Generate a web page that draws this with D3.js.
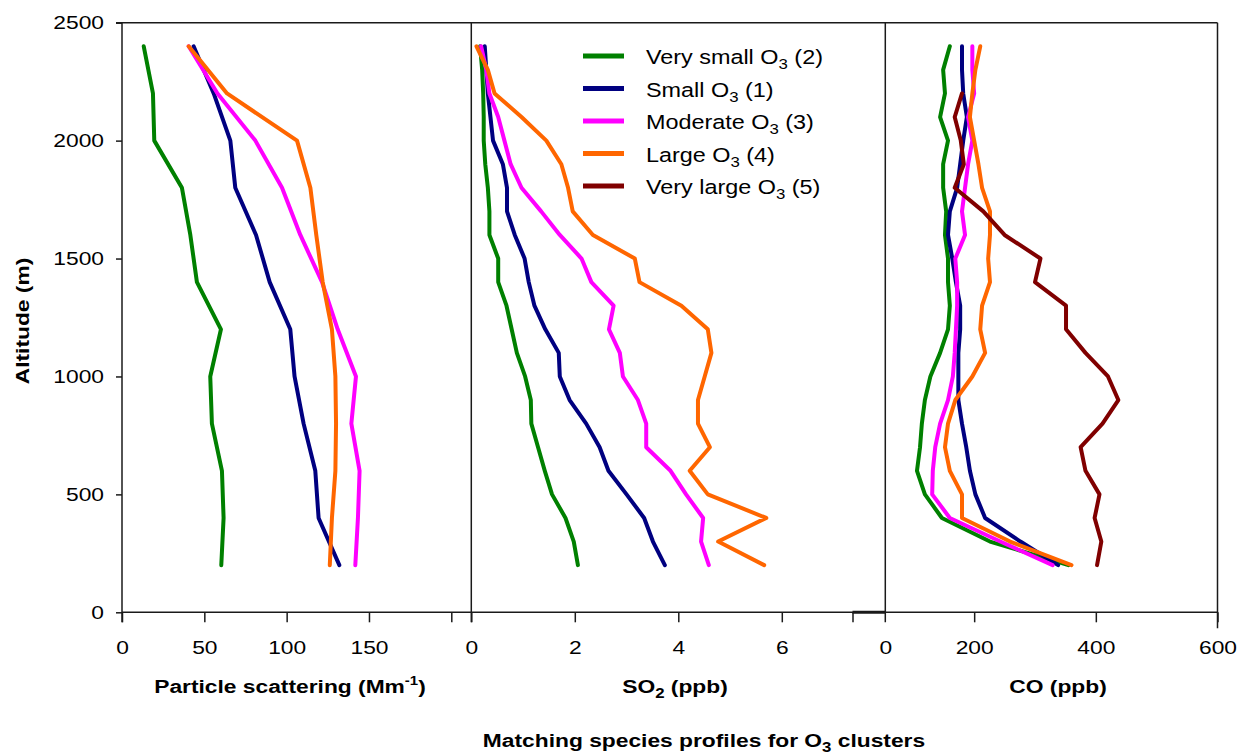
<!DOCTYPE html>
<html>
<head>
<meta charset="utf-8">
<script src="https://cdn.jsdelivr.net/npm/d3@7"></script>
<style>
  body { margin: 0; background: #fff; }
  text { font-family: Arial, "Liberation Sans", sans-serif; fill: #000; }
</style>
</head>
<body>
<svg id="chart"></svg>
<script>
// altitude levels (m)
const alt200 = [200, 400, 600, 800, 1000, 1200, 1400, 1600, 1800, 2000, 2200, 2400];
const alt100 = [200, 300, 400, 500, 600, 700, 800, 900, 1000, 1100, 1200, 1300,
                1400, 1500, 1600, 1700, 1800, 1900, 2000, 2100, 2200, 2300, 2400];
const altBrown = [200, 300, 400, 500, 600, 700, 800, 900, 1000, 1100, 1200, 1300,
                  1400, 1500, 1600, 1700, 1800, 1900, 2000, 2100, 2200];

const clusterNames = ["Very small", "Small", "Moderate", "Large", "Very large"];
const clusterIds = ["(2)", "(1)", "(3)", "(4)", "(5)"];
const clusterColors = ["#008000", "#000080", "#ff00ff", "#ff6600", "#800000"];

// particle scattering (Mm-1), every 200 m
const scatVerySmall = [60.3, 61.7, 60.7, 54.6, 53.6, 60.1, 45.5, 41.5, 36.4, 19.6, 18.8, 13.2];
const scatSmall     = [132, 119.4, 117.4, 110.3, 104.8, 102.2, 89.7, 81.4, 68.8, 65.8, 55.7, 43.5];
const scatModerate  = [141.7, 143.3, 144.3, 139.3, 142.1, 131, 121.5, 108.3, 97.2, 81, 58, 40.5];
const scatLarge     = [126.2, 127.5, 129.6, 130, 129.6, 127.5, 121.9, 118, 114.4, 106.3, 63.8, 40.5];

// SO2 (ppb), every 100 m
const so2VerySmall = [2.06, 1.98, 1.82, 1.56, 1.42, 1.29, 1.16, 1.15, 1.04, 0.88, 0.78, 0.68,
                      0.52, 0.52, 0.35, 0.35, 0.32, 0.27, 0.24, 0.24, 0.23, 0.21, 0.17];
const so2Small     = [3.74, 3.51, 3.34, 3.0, 2.65, 2.48, 2.22, 1.9, 1.71, 1.69, 1.43, 1.22,
                      1.11, 1.03, 0.84, 0.69, 0.69, 0.61, 0.42, 0.37, 0.32, 0.29, 0.26];
const so2Moderate  = [4.59, 4.44, 4.48, 4.15, 3.85, 3.38, 3.38, 3.22, 2.93, 2.87, 2.66, 2.75,
                      2.32, 2.13, 1.71, 1.35, 0.97, 0.76, 0.64, 0.52, 0.35, 0.29, 0.19];
const so2Large     = [5.66, 4.77, 5.7, 4.57, 4.22, 4.61, 4.38, 4.38, 4.51, 4.64, 4.57, 4.06,
                      3.25, 3.16, 2.35, 1.96, 1.87, 1.74, 1.45, 0.97, 0.45, 0.32, 0.1];

// CO (ppb), every 100 m
const coVerySmall = [355, 226, 147, 119, 106, 111, 114, 119, 128, 144, 157, 160,
                     157, 157, 152, 154, 149, 149, 157, 144, 152, 149, 160];
const coSmall     = [338, 276, 218, 202, 193, 187, 180, 174, 174, 174, 177, 177,
                     170, 164, 157, 160, 172, 177, 182, 188, 182, 180, 180];
const coModerate  = [329, 243, 160, 131, 132, 136, 144, 157, 165, 168, 170, 172,
                     172, 169, 185, 180, 185, 190, 197, 190, 200, 197, 197];
const coLarge     = [360, 259, 180, 180, 160, 152, 157, 169, 197, 218, 210, 213,
                     226, 223, 226, 226, 213, 207, 200, 193, 197, 202, 210];
const coVeryLarge = [402, 409, 398, 406, 383, 375, 411, 437, 420, 383, 351, 351,
                     300, 309, 250, 215, 168, 183, 178, 168, 180];

const altTicks = [0, 500, 1000, 1500, 2000, 2500];
const scatTicks = [0, 50, 100, 150, 200];
const so2Ticks = [0, 2, 4, 6];
const coTicks = [0, 200, 400, 600];

const W = 1242, H = 754;
const SX = 1.2; // text in the picture is drawn wider than plain Arial
const svg = d3.select("#chart").attr("width", W).attr("height", H);

const y = d3.scaleLinear().domain([0, 2500]).range([612.3, 22.7]);
const xScat = d3.scaleLinear().domain([0, 200]).range([122, 451.3]);
const xSO2 = d3.scaleLinear().domain([0, 8]).range([471.3, 885.3]);
const xCO = d3.scaleLinear().domain([0, 600]).range([852.5, 1217.5]);

const frame = "#1a1a1a";

// y axis
const yAxis = svg.append("g").attr("transform", `translate(${xScat(0)},0)`)
    .call(d3.axisLeft(y).tickValues(altTicks).tickSize(6).tickPadding(12).tickFormat(d3.format("d")));
yAxis.select(".domain").remove();
yAxis.selectAll("line").attr("stroke", frame).attr("stroke-width", 1.5);
yAxis.selectAll("text").style("font-size", "19px").attr("fill", "#000")
    .attr("x", -18 / SX).attr("transform", `scale(${SX},1)`);

// x axes
function xAxis(scale, ticks, hideLabels) {
    const g = svg.append("g").attr("transform", `translate(0,${y(0)})`)
        .call(d3.axisBottom(scale).tickValues(ticks).tickSize(10).tickPadding(18)
            .tickFormat(d => hideLabels.includes(d) ? "" : d));
    g.select(".domain").remove();
    g.selectAll("line").attr("stroke", frame).attr("stroke-width", 1.5);
    g.selectAll("text").style("font-size", "19px").attr("fill", "#000")
        .attr("transform", `scale(${SX},1)`);
    return g;
}
xAxis(xScat, scatTicks, [200]);
xAxis(xSO2, so2Ticks, []);
const coAxis = xAxis(xCO, coTicks, []);
// CO "0" label sits at the panel edge
coAxis.selectAll(".tick").filter(d => d === 0).select("text")
    .attr("x", (xSO2(8) - xCO(0)) / SX);

// frame lines
const frameG = svg.append("g").attr("stroke", frame).attr("stroke-width", 1.5);
frameG.append("line").attr("x1", xScat(0) - 6).attr("x2", xCO(600)).attr("y1", y(2500)).attr("y2", y(2500));
frameG.append("line").attr("x1", xScat(0)).attr("x2", xCO(600)).attr("y1", y(0)).attr("y2", y(0));
frameG.append("line").attr("x1", xCO(0)).attr("x2", xSO2(8)).attr("y1", y(0)).attr("y2", y(0)).attr("stroke-width", 3);
[xScat(0), xSO2(0), xSO2(8)].forEach(px => {
    frameG.append("line").attr("x1", px).attr("x2", px).attr("y1", y(2500)).attr("y2", y(0) + 10);
});
frameG.append("line").attr("x1", xCO(600)).attr("x2", xCO(600)).attr("y1", y(2500)).attr("y2", y(0) + 16);

// profile lines
function profile(xs, alts, vals, color) {
    const line = d3.line().x(d => xs(d)).y((d, i) => y(alts[i]));
    svg.append("path").datum(vals)
        .attr("d", line)
        .attr("fill", "none")
        .attr("stroke", color)
        .attr("stroke-width", 4)
        .attr("stroke-linejoin", "round")
        .attr("stroke-linecap", "round");
}
profile(xScat, alt200, scatVerySmall, clusterColors[0]);
profile(xScat, alt200, scatSmall, clusterColors[1]);
profile(xScat, alt200, scatModerate, clusterColors[2]);
profile(xScat, alt200, scatLarge, clusterColors[3]);

profile(xSO2, alt100, so2VerySmall, clusterColors[0]);
profile(xSO2, alt100, so2Small, clusterColors[1]);
profile(xSO2, alt100, so2Moderate, clusterColors[2]);
profile(xSO2, alt100, so2Large, clusterColors[3]);

profile(xCO, alt100, coVerySmall, clusterColors[0]);
profile(xCO, alt100, coSmall, clusterColors[1]);
profile(xCO, alt100, coModerate, clusterColors[2]);
profile(xCO, alt100, coLarge, clusterColors[3]);
profile(xCO, altBrown, coVeryLarge, clusterColors[4]);

// legend
const legend = svg.append("g").attr("transform", "translate(583,56)");
const rows = legend.selectAll("g").data(clusterNames).join("g")
    .attr("transform", (d, i) => `translate(0,${i * 32.5})`);
rows.append("line").attr("x1", 0).attr("x2", 41).attr("y1", 0).attr("y2", 0)
    .attr("stroke", (d, i) => clusterColors[i]).attr("stroke-width", 5);
const lt = rows.append("text").attr("transform", `translate(63,8) scale(${SX},1)`)
    .style("font-size", "19.5px");
lt.append("tspan").text(d => d + " O");
lt.append("tspan").text("3").attr("dy", 5).style("font-size", "14px");
lt.append("tspan").text((d, i) => " " + clusterIds[i]).attr("dy", -5);

// axis titles
function title(x, y0, rotate) {
    return svg.append("text")
        .attr("transform", `translate(${x},${y0})${rotate ? " rotate(-90)" : ""} scale(${SX},1)`)
        .attr("text-anchor", "middle").style("font-size", "19px").style("font-weight", "bold");
}
const t1 = title(290, 693);
t1.append("tspan").text("Particle scattering (Mm");
t1.append("tspan").text("-1").attr("dy", -8).style("font-size", "12.5px");
t1.append("tspan").text(")").attr("dy", 8);

const t2 = title(675, 693);
t2.append("tspan").text("SO");
t2.append("tspan").text("2").attr("dy", 5).style("font-size", "14px");
t2.append("tspan").text(" (ppb)").attr("dy", -5);

title(1058, 693).text("CO (ppb)");

title(29, 321, true).text("Altitude (m)");

const t3 = title(704, 747);
t3.append("tspan").text("Matching species profiles for O");
t3.append("tspan").text("3").attr("dy", 5).style("font-size", "14px");
t3.append("tspan").text(" clusters").attr("dy", -5);
</script>
</body>
</html>
